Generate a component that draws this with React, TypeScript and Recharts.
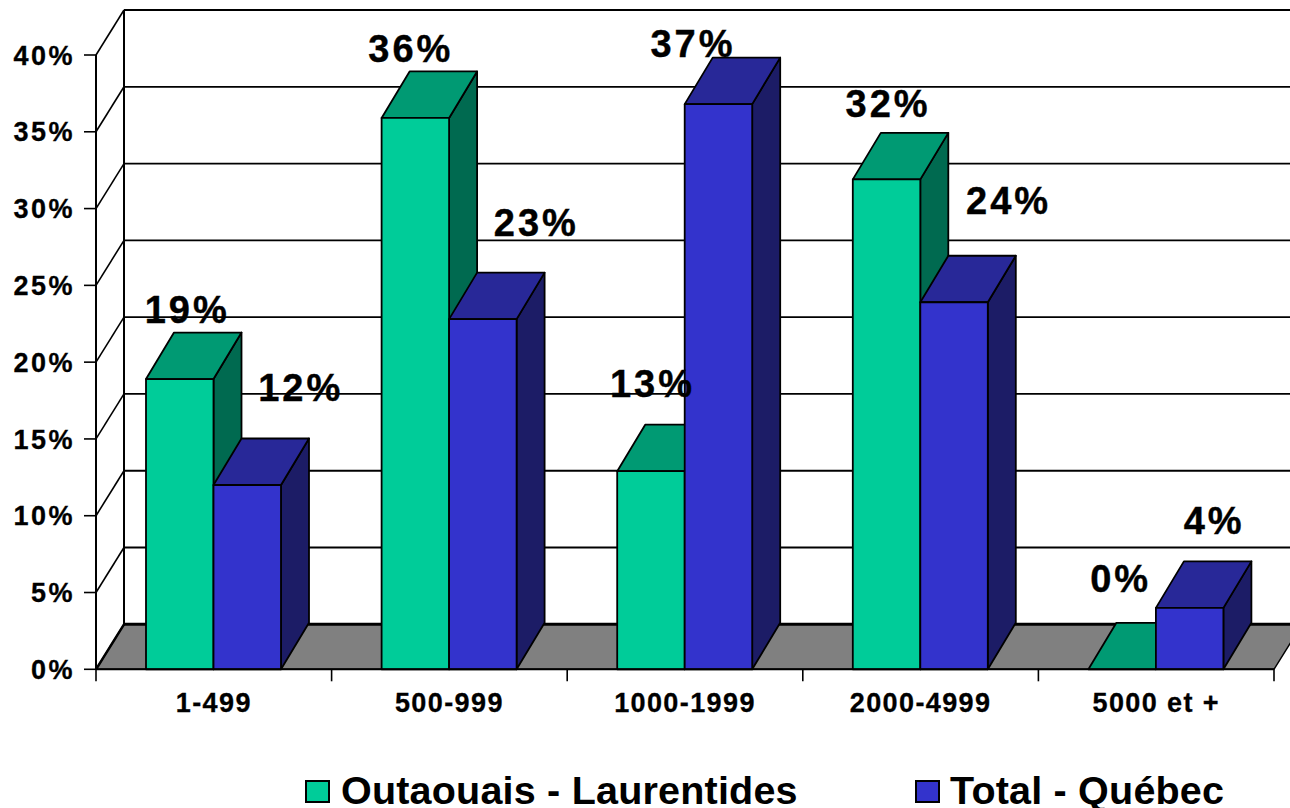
import { BarChart, Bar, XAxis, YAxis, CartesianGrid, LabelList, Legend } from "recharts";

const categories = ["1-499", "500-999", "1000-1999", "2000-4999", "5000 et +"];
const outaouais = [18.9, 35.9, 12.9, 31.9, 0];
const quebec = [12, 22.8, 36.8, 23.9, 4];
const yTicks = [0, 5, 10, 15, 20, 25, 30, 35, 40];

// labels were placed by hand in the original, so each one has its own nudge
const outaouaisLabelNudge = [[7.5, -56], [-4.5, -56], [1.5, -74], [1.5, -62], [-1.5, -77]];
const quebecLabelNudge = [[53.5, -84], [53.5, -83], [-25.5, -47], [54.5, -88], [24.5, -74]];

const data = categories.map((name, i) => ({
  name,
  outaouais: outaouais[i],
  quebec: quebec[i],
}));

const FONT = '"Liberation Sans", Arial, sans-serif';
const DEPTH_X = 28;
const WALL_DEPTH_Y = 45;
const BOX_DEPTH_Y = 46.5;
const LEFT = 96;
const RIGHT = 1274;
const TOP = 55;
const BOTTOM = 669.3;
const BAND = (RIGHT - LEFT) / categories.length;

const GREEN = { front: "#00CC99", top: "#009A73", side: "#006A50" };
const BLUE = { front: "#3333CC", top: "#282898", side: "#1C1C66" };

function Box3D({ x, y, width, height, faces }: any) {
  const right = x + width;
  const bottom = y + height;
  const common = { stroke: "#000", strokeWidth: 1.8, strokeLinejoin: "round" as const };
  return (
    <g>
      <polygon
        points={`${right},${y} ${right + DEPTH_X},${y - BOX_DEPTH_Y} ${right + DEPTH_X},${bottom - BOX_DEPTH_Y} ${right},${bottom}`}
        fill={faces.side}
        {...common}
      />
      <polygon
        points={`${x},${y} ${x + DEPTH_X},${y - BOX_DEPTH_Y} ${right + DEPTH_X},${y - BOX_DEPTH_Y} ${right},${y}`}
        fill={faces.top}
        {...common}
      />
      <rect x={x} y={y} width={width} height={height} fill={faces.front} {...common} />
    </g>
  );
}

// one call per y tick: back wall line, left wall diagonal, and the floor on the zero line
function WallLine({ y1 }: any) {
  const isFloor = y1 >= BOTTOM - 1;
  const isTop = y1 <= TOP + 1;
  const backY = y1 - WALL_DEPTH_Y;
  const backX = LEFT + DEPTH_X;
  return (
    <g>
      {isFloor && (
        <polygon
          points={`${LEFT},${y1} ${RIGHT},${y1} ${RIGHT + DEPTH_X},${backY} ${backX},${backY}`}
          fill="#808080"
          stroke="#000"
          strokeWidth={1.5}
        />
      )}
      {isTop && <line x1={backX} y1={backY} x2={backX} y2={BOTTOM - WALL_DEPTH_Y} stroke="#000" strokeWidth={2} />}
      <line x1={LEFT} y1={y1} x2={backX} y2={backY} stroke="#000" strokeWidth={isFloor ? 2.5 : 1.6} />
      <line x1={backX} y1={backY} x2={RIGHT + DEPTH_X} y2={backY} stroke="#000" strokeWidth={isFloor ? 3 : 1.8} />
    </g>
  );
}

function CategoryTick({ x, y, payload, index }: any) {
  const half = BAND / 2;
  return (
    <g>
      <line x1={x - half} y1={y} x2={x - half} y2={y + 12} stroke="#000" strokeWidth={1.6} />
      {index === categories.length - 1 && (
        <line x1={x + half} y1={y} x2={x + half} y2={y + 12} stroke="#000" strokeWidth={1.6} />
      )}
      <text
        x={x}
        y={y + 43}
        textAnchor="middle"
        fontFamily={FONT}
        fontWeight={700}
        fontSize={27}
        letterSpacing={1.4}
        fill="#000"
        stroke="#000"
        strokeWidth={0.3}
      >
        {payload.value}
      </text>
    </g>
  );
}

function valueLabel(nudges: number[][]) {
  return ({ x, y, width, value, index }: any) => (
    <text
      x={x + width / 2 + nudges[index][0]}
      y={y + nudges[index][1]}
      textAnchor="middle"
      fontFamily={FONT}
      fontWeight={700}
      fontSize={38}
      letterSpacing={3}
      fill="#000"
      stroke="#000"
      strokeWidth={0.4}
    >
      {`${Math.round(value)}%`}
    </text>
  );
}

function ChartLegend({ payload }: any) {
  const spots = [
    { box: 305, text: 341 },
    { box: 915, text: 950 },
  ];
  return (
    <div style={{ position: "relative", height: 38 }}>
      {(payload || []).map((item: any, i: number) => (
        <div key={item.value}>
          <div
            style={{
              position: "absolute",
              left: spots[i].box,
              top: 10,
              width: 25,
              height: 23,
              background: item.color,
              border: "2px solid #000",
              boxSizing: "border-box",
            }}
          />
          <div
            style={{
              position: "absolute",
              left: spots[i].text,
              top: 4.4,
              lineHeight: "33px",
              fontFamily: FONT,
              fontWeight: 700,
              fontSize: 39.5,
              letterSpacing: 0.2,
              color: "#000",
              whiteSpace: "nowrap",
            }}
          >
            {item.value}
          </div>
        </div>
      ))}
    </div>
  );
}

export default function App() {
  return (
    <div style={{ position: "absolute", left: 0, top: 0, width: 1290, height: 808, background: "#fff" }}>
      <BarChart
        width={1290}
        height={808}
        data={data}
        barSize={67.5}
        barGap={0}
        margin={{ top: TOP, right: 1290 - RIGHT, bottom: 0, left: 0 }}
      >
        <CartesianGrid horizontal={WallLine as any} vertical={false} />
        <XAxis
          dataKey="name"
          height={808 - BOTTOM}
          axisLine={{ stroke: "#000", strokeWidth: 2 }}
          tickLine={false}
          tickSize={0}
          tickMargin={0}
          interval={0}
          tick={CategoryTick as any}
        />
        <YAxis
          width={LEFT}
          domain={[0, 40]}
          ticks={yTicks}
          interval={0}
          tickFormatter={(v: number) => `${v}%`}
          axisLine={{ stroke: "#000", strokeWidth: 2 }}
          tickLine={{ stroke: "#000", strokeWidth: 1.6 }}
          tickSize={12}
          tickMargin={9}
          tick={{ fill: "#000", stroke: "#000", strokeWidth: 0.3, fontSize: 27, fontWeight: 700, fontFamily: FONT, letterSpacing: 2.5 }}
        />
        <Bar
          dataKey="outaouais"
          name="Outaouais - Laurentides"
          fill={GREEN.front}
          isAnimationActive={false}
          shape={(props: any) => <Box3D {...props} faces={GREEN} />}
        >
          <LabelList dataKey="outaouais" content={valueLabel(outaouaisLabelNudge) as any} />
        </Bar>
        <Bar
          dataKey="quebec"
          name="Total - Québec"
          fill={BLUE.front}
          isAnimationActive={false}
          shape={(props: any) => <Box3D {...props} faces={BLUE} />}
        >
          <LabelList dataKey="quebec" content={valueLabel(quebecLabelNudge) as any} />
        </Bar>
        <Legend
          layout="horizontal"
          verticalAlign="middle"
          align="center"
          content={ChartLegend as any}
          wrapperStyle={{ position: "absolute", left: 0, top: 770, width: 1290, height: 38 }}
        />
      </BarChart>
    </div>
  );
}
